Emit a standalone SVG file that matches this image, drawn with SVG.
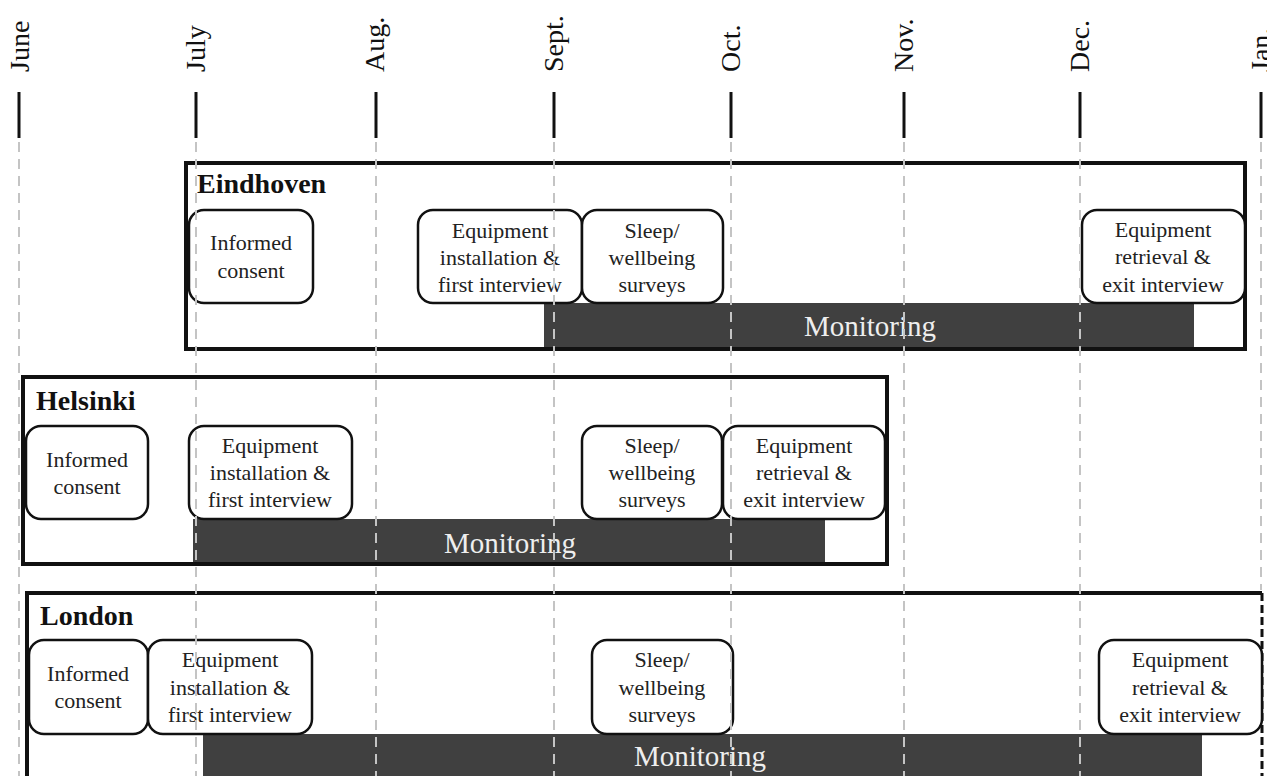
<svg xmlns="http://www.w3.org/2000/svg" width="1267" height="776" viewBox="0 0 1267 776">
<style>
.month{font-family:"Liberation Serif","Times New Roman",serif;font-size:28px;fill:#111}
.tick{stroke:#111;stroke-width:3}
.grid{stroke:#c4c4c4;stroke-width:2;stroke-dasharray:10 7;fill:none}
.site{fill:#fff;stroke:#111;stroke-width:4}
.title{font-family:"Liberation Serif","Times New Roman",serif;font-size:28px;font-weight:bold;fill:#111}
.node{fill:#fff;stroke:#111;stroke-width:2.5}
.lbl{font-family:"Liberation Serif","Times New Roman",serif;font-size:22px;fill:#222;text-anchor:middle}
.bar{fill:#404040}
.mon{font-family:"Liberation Serif","Times New Roman",serif;font-size:29px;fill:#eee;text-anchor:middle}
</style>
<rect width="1267" height="776" fill="#fff"/>
<g id="axis">
<text class="month" transform="translate(29,72) rotate(-90)">June</text>
<text class="month" transform="translate(205,72) rotate(-90)">July</text>
<text class="month" transform="translate(384,72) rotate(-90)">Aug.</text>
<text class="month" transform="translate(563,72) rotate(-90)">Sept.</text>
<text class="month" transform="translate(740,72) rotate(-90)">Oct.</text>
<text class="month" transform="translate(913,72) rotate(-90)">Nov.</text>
<text class="month" transform="translate(1089,72) rotate(-90)">Dec.</text>
<text class="month" transform="translate(1270,72) rotate(-90)">Jan.</text>
<line class="tick" x1="19" y1="92" x2="19" y2="138"/>
<line class="tick" x1="196" y1="92" x2="196" y2="138"/>
<line class="tick" x1="376" y1="92" x2="376" y2="138"/>
<line class="tick" x1="554" y1="92" x2="554" y2="138"/>
<line class="tick" x1="731" y1="92" x2="731" y2="138"/>
<line class="tick" x1="904" y1="92" x2="904" y2="138"/>
<line class="tick" x1="1080" y1="92" x2="1080" y2="138"/>
<line class="tick" x1="1261" y1="92" x2="1261" y2="138"/>
</g>
<g id="eindhoven">
<rect class="site" x="186" y="163" width="1059" height="186"/>
<text class="title" x="197" y="193">Eindhoven</text>
<rect class="bar" x="544" y="303" width="650" height="44"/>
<text class="mon" x="870" y="336">Monitoring</text>
<rect class="node" x="189" y="210" width="124" height="93" rx="15"/>
<text class="lbl" x="251" y="250">Informed</text>
<text class="lbl" x="251" y="278">consent</text>
<rect class="node" x="418" y="210" width="164" height="93" rx="15"/>
<text class="lbl" x="500" y="238">Equipment</text>
<text class="lbl" x="500" y="265">installation &amp;</text>
<text class="lbl" x="500" y="292">first interview</text>
<rect class="node" x="582" y="210" width="141" height="93" rx="15"/>
<text class="lbl" x="652" y="238">Sleep/</text>
<text class="lbl" x="652" y="265">wellbeing</text>
<text class="lbl" x="652" y="292">surveys</text>
<rect class="node" x="1082" y="210" width="163" height="93" rx="15"/>
<text class="lbl" x="1163" y="237">Equipment</text>
<text class="lbl" x="1163" y="264">retrieval &amp;</text>
<text class="lbl" x="1163" y="292">exit interview</text>
</g>
<g id="helsinki">
<rect class="site" x="23" y="377" width="864" height="187"/>
<text class="title" x="36" y="410">Helsinki</text>
<rect class="bar" x="193" y="519" width="632" height="43"/>
<text class="mon" x="510" y="553">Monitoring</text>
<rect class="node" x="26" y="426" width="122" height="93" rx="15"/>
<text class="lbl" x="87" y="467">Informed</text>
<text class="lbl" x="87" y="494">consent</text>
<rect class="node" x="189" y="426" width="163" height="93" rx="15"/>
<text class="lbl" x="270" y="453">Equipment</text>
<text class="lbl" x="270" y="480">installation &amp;</text>
<text class="lbl" x="270" y="507">first interview</text>
<rect class="node" x="582" y="426" width="140" height="93" rx="15"/>
<text class="lbl" x="652" y="453">Sleep/</text>
<text class="lbl" x="652" y="480">wellbeing</text>
<text class="lbl" x="652" y="507">surveys</text>
<rect class="node" x="723" y="426" width="162" height="93" rx="15"/>
<text class="lbl" x="804" y="453">Equipment</text>
<text class="lbl" x="804" y="480">retrieval &amp;</text>
<text class="lbl" x="804" y="507">exit interview</text>
</g>
<g id="london">
<path d="M27,800 L27,593 L1262,593" fill="#fff" stroke="#111" stroke-width="4"/>
<line x1="1262" y1="593" x2="1262" y2="776" stroke="#111" stroke-width="3" stroke-dasharray="8 4"/>
<text class="title" x="40" y="625">London</text>
<rect class="bar" x="203" y="734" width="999" height="50"/>
<text class="mon" x="700" y="766">Monitoring</text>
<rect class="node" x="29" y="640" width="119" height="94" rx="15"/>
<text class="lbl" x="88" y="681">Informed</text>
<text class="lbl" x="88" y="708">consent</text>
<rect class="node" x="148" y="640" width="164" height="94" rx="15"/>
<text class="lbl" x="230" y="667">Equipment</text>
<text class="lbl" x="230" y="695">installation &amp;</text>
<text class="lbl" x="230" y="722">first interview</text>
<rect class="node" x="592" y="640" width="141" height="94" rx="15"/>
<text class="lbl" x="662" y="667">Sleep/</text>
<text class="lbl" x="662" y="695">wellbeing</text>
<text class="lbl" x="662" y="722">surveys</text>
<rect class="node" x="1099" y="640" width="163" height="94" rx="15"/>
<text class="lbl" x="1180" y="667">Equipment</text>
<text class="lbl" x="1180" y="695">retrieval &amp;</text>
<text class="lbl" x="1180" y="722">exit interview</text>
</g>
<g id="gridlines">
<line class="grid" x1="19" y1="142" x2="19" y2="776"/>
<line class="grid" x1="196" y1="142" x2="196" y2="776"/>
<line class="grid" x1="376" y1="142" x2="376" y2="776"/>
<line class="grid" x1="554" y1="142" x2="554" y2="776"/>
<line class="grid" x1="731" y1="142" x2="731" y2="776"/>
<line class="grid" x1="904" y1="142" x2="904" y2="776"/>
<line class="grid" x1="1080" y1="142" x2="1080" y2="776"/>
<line class="grid" x1="1261" y1="142" x2="1261" y2="590"/>
</g>
</svg>
